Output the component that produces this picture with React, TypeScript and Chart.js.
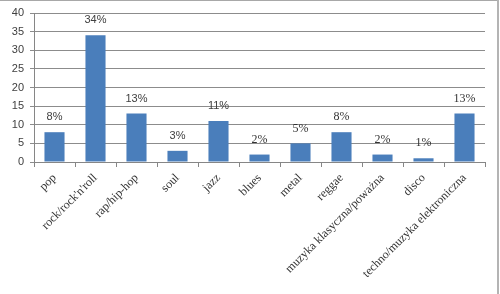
import React, { useEffect, useRef } from "react";
import { Chart, registerables } from "chart.js";

Chart.register(...registerables);

const categories = [
  "pop",
  "rock/rock'n'roll",
  "rap/hip-hop",
  "soul",
  "jazz",
  "blues",
  "metal",
  "reggae",
  "muzyka klasyczna/poważna",
  "disco",
  "techno/muzyka elektroniczna",
];
const values = [8, 34, 13, 3, 11, 2, 5, 8, 2, 1, 13];
const labelTexts = ["8%", "34%", "13%", "3%", "11%", "2%", "5%", "8%", "2%", "1%", "13%"];
const labelSerif = [false, false, false, false, false, true, true, true, true, true, true];

const dataLabelPlugin = {
  id: "dataLabels",
  afterDatasetsDraw(chart: any) {
    const ctx = chart.ctx;
    const meta = chart.getDatasetMeta(0);
    ctx.save();
    ctx.textAlign = "center";
    ctx.textBaseline = "middle";
    meta.data.forEach((bar: any, i: number) => {
      if (labelSerif[i]) {
        ctx.font = "12px 'Liberation Serif', 'Times New Roman', serif";
        ctx.fillStyle = "#333333";
      } else {
        ctx.font = "11px 'Liberation Sans', Arial, sans-serif";
        ctx.fillStyle = "#404040";
      }
      ctx.fillText(labelTexts[i], bar.x, bar.y - 15);
    });
    ctx.restore();
  },
};

export default function App() {
  const ref = useRef<HTMLCanvasElement | null>(null);
  useEffect(() => {
    if (!ref.current) return;
    const chart = new Chart(ref.current, {
      type: "bar",
      data: {
        labels: categories,
        datasets: [
          {
            data: values,
            backgroundColor: "#4a7ebb",
            borderWidth: 0,
            categoryPercentage: 1,
            barPercentage: 0.49,
          },
        ],
      },
      options: {
        animation: false,
        responsive: false,
        maintainAspectRatio: false,
        layout: { padding: { left: 0, right: 15, top: 13, bottom: 0 } },
        plugins: { legend: { display: false }, tooltip: { enabled: false } },
        scales: {
          x: {
            grid: {
              display: true,
              drawOnChartArea: false,
              drawTicks: true,
              tickLength: 5,
              offset: true,
              color: "#868686",
            },
            border: { display: true, color: "#868686" },
            ticks: {
              autoSkip: false,
              maxRotation: 45,
              minRotation: 45,
              padding: 4,
              color: "#333333",
              font: { family: "'Liberation Serif', serif", size: 12 },
            },
            afterFit(scale: any) {
              scale.height = 132;
            },
          },
          y: {
            min: 0,
            max: 40,
            ticks: {
              stepSize: 5,
              padding: 6,
              color: "#404040",
              font: { family: "'Liberation Sans', Arial, sans-serif", size: 11 },
            },
            grid: { color: "#8c8c8c", tickLength: 4 },
            border: { display: true, color: "#868686" },
            afterFit(scale: any) {
              scale.width = 34;
            },
          },
        },
      },
      plugins: [dataLabelPlugin],
    });
    return () => chart.destroy();
  }, []);
  return (
    <div
      style={{
        position: "fixed",
        left: 0,
        top: 0,
        width: 500,
        height: 294,
        background: "#ffffff",
      }}
    >
      <canvas ref={ref} width={500} height={294} style={{ display: "block" }} />
      <div
        style={{
          position: "absolute",
          left: 0,
          top: 0,
          width: 498,
          height: 0,
          borderTop: "1px solid #a8a8a8",
        }}
      />
      <div
        style={{
          position: "absolute",
          left: 497,
          top: 0,
          width: 0,
          height: 294,
          borderLeft: "2px solid #b4b4b4",
        }}
      />
    </div>
  );
}
